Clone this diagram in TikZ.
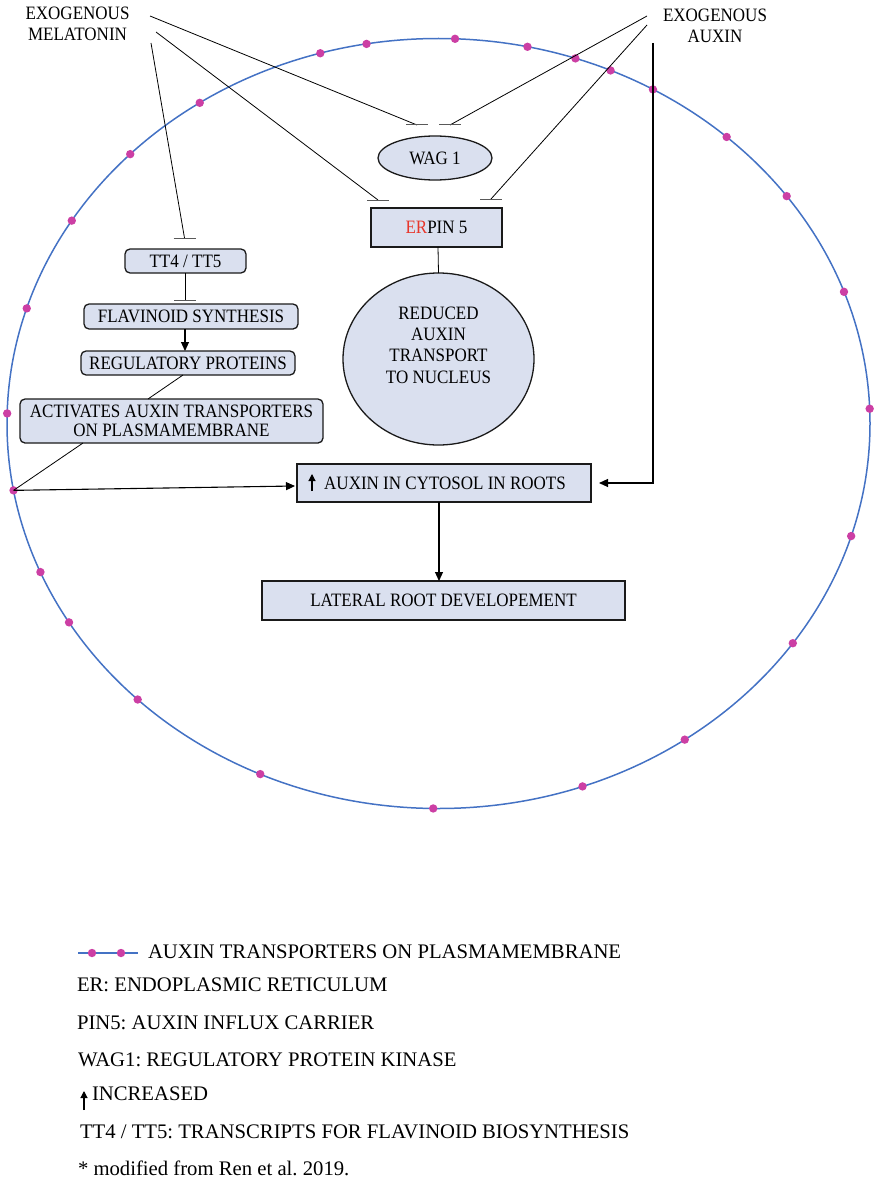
\documentclass[tikz,border=0pt]{standalone}
\usepackage{fontspec}
\setmainfont{Liberation Serif}
\newfontfamily\diagfont[FakeStretch=0.9]{Liberation Serif}
\usetikzlibrary{arrows.meta,shapes.geometric,calc}
\definecolor{boxfill}{HTML}{DAE0EF}
\definecolor{membrane}{HTML}{4472C4}
\definecolor{carrier}{HTML}{CC3FA4}
\definecolor{erred}{HTML}{E8372C}
\definecolor{edgeline}{HTML}{1A1A1A}
\frenchspacing

\begin{document}
\begin{tikzpicture}[x=1pt,y=-1pt,
  every node/.style={inner sep=0pt, outer sep=0pt},
  lbl/.style={font=\diagfont\fontsize{18.9}{21.3}\selectfont, align=center},
  procbox/.style={lbl, draw=edgeline, line width=1.3pt, fill=boxfill},
  roundbox/.style={procbox, rounded corners=5pt},
  ovalbox/.style={procbox, ellipse},
  link/.style={line width=0.8pt},
  inhline/.style={line width=0.8pt},
  inhbar/.style={line width=1pt, draw=black!65},
  arr/.style={line width=1.1pt, -{Triangle[length=9pt,width=8pt]}},
  membr/.style={draw=membrane, line width=1.5pt},
  carrierdot/.style={fill=carrier},
  legtext/.style={font=\fontsize{20.7}{24}\selectfont, anchor=west},
]
\useasboundingbox (0,0) rectangle (874,1180);

% plasma membrane with auxin transporters
\draw[membr] (438.5,423.5) ellipse [x radius=431.5pt, y radius=385pt];
\foreach \t in {254.1,260.4,272.2,281.9,288.5,293.5,299.8,311.9,323.8,340,357.8,
                17,34.8,55.2,70.5,90.7,114.4,134.2,148.9,157.3,170,181.5,197.4,211.8,224.4,236.4}
  \fill[carrierdot] ({438.5+431.5*cos(\t)},{423.5+385*sin(\t)}) circle (4.2pt);
\coordinate (inlet) at ({438.5+431.5*cos(170)},{423.5+385*sin(170)});

% external signals
\node[lbl] (mel) at (77.5,24) {EXOGENOUS\\MELATONIN};
\node[lbl] (aux) at (715,26) {EXOGENOUS\\AUXIN};

% nodes
\node[ovalbox, minimum width=114pt, minimum height=44pt] (wag) at (435,158) {WAG 1};
\node[procbox, minimum width=131pt, minimum height=39pt] (pin) at (436.5,227.5) {\textcolor{erred}{ER}PIN 5};
\node[ovalbox, minimum width=191pt, minimum height=172pt] (red) at (438.5,359) {};
\node[lbl] (redtxt) at ([yshift=14pt]red.center) {REDUCED\\AUXIN\\TRANSPORT\\TO NUCLEUS};
\node[roundbox, minimum width=121pt, minimum height=24pt] (tt) at (185.5,261) {TT4 / TT5};
\node[roundbox, minimum width=214pt, minimum height=25pt] (flav) at (191,316.5) {FLAVINOID SYNTHESIS};
\node[roundbox, minimum width=214pt, minimum height=24pt] (reg) at (188,363) {REGULATORY PROTEINS};
\node[roundbox, minimum width=303pt, minimum height=44pt, font=\diagfont\fontsize{18.9}{19.5}\selectfont] (act) at (171.5,421)
  {ACTIVATES AUXIN TRANSPORTERS\\ON PLASMAMEMBRANE};
\node[procbox, minimum width=294pt, minimum height=38pt] (cyt) at (444,483) {\hspace*{2pt}AUXIN IN CYTOSOL IN ROOTS};
\node[procbox, minimum width=363pt, minimum height=39pt] (lat) at (443.5,600.5) {LATERAL ROOT DEVELOPEMENT};

% inhibition ends
\coordinate (melA) at (150,16);
\coordinate (melB) at (156,32);
\coordinate (melC) at (151,43);
\coordinate (auxA) at (647,16);
\coordinate (auxB) at (647,25);
\coordinate (auxC) at (653,43);
\coordinate (wagL) at (417,125);
\coordinate (wagR) at (450,125);
\coordinate (pinL) at (378,200);
\coordinate (pinR) at (491,199);
\coordinate (ttT) at (184.5,238);
\coordinate (flT) at (185,300);

\draw[inhline] (melA) -- (wagL);
\draw[inhline] (melB) -- (pinL);
\draw[inhline] (melC) -- (ttT);
\draw[inhline] (auxA) -- (wagR);
\draw[inhline] (auxB) -- (pinR);
\draw[inhline] ([xshift=-0.5pt]tt.south) -- (flT);
\foreach \b in {wagL,wagR,pinL,pinR,ttT,flT}
  \draw[inhbar] ([xshift=-11pt]\b) -- ([xshift=11pt]\b);

% flow
\draw[link] ([xshift=1.5pt]pin.south) -- (red.north);
\draw[arr] ([xshift=-6pt]flav.south) -- ([xshift=-3pt]reg.north);
\draw[link] ([xshift=-5pt]reg.south) -- ([xshift=-23.5pt]act.north);
\draw[link] ([xshift=-88.5pt]act.south) -- (inlet);
\draw[arr] (inlet) -- ([xshift=-2pt,yshift=-3pt]cyt.west);
\draw[arr] (auxC) |- ([xshift=8pt]cyt.east);
\draw[arr] ([xshift=-5pt]cyt.south) -- ([xshift=-4.5pt]lat.north);
\draw[line width=1.1pt, -{Triangle[length=7pt,width=7pt]}]
  ([xshift=15pt,yshift=-8pt]cyt.west) -- ([xshift=15pt,yshift=9pt]cyt.west);

% legend
\draw[membr] (78,953) -- (138,953);
\fill[carrierdot] (92,953) circle (4.2pt);
\fill[carrierdot] (121,953) circle (4.2pt);
\node[legtext] (l1) at (148,952) {AUXIN TRANSPORTERS ON PLASMAMEMBRANE};
\node[legtext] (l2) at (77,985) {ER: ENDOPLASMIC RETICULUM};
\node[legtext] (l3) at (77,1023) {PIN5: AUXIN INFLUX CARRIER};
\node[legtext] (l4) at (78,1060) {WAG1: REGULATORY PROTEIN KINASE};
\coordinate (upA) at (84,1110);
\coordinate (upB) at (84,1091);
\draw[line width=1.1pt, -{Triangle[length=7pt,width=7pt]}] (upA) -- (upB);
\node[legtext] (l5) at (92,1094) {INCREASED};
\node[legtext] (l6) at (80,1132) {TT4 / TT5: TRANSCRIPTS FOR FLAVINOID BIOSYNTHESIS};
\node[legtext] (l7) at (78,1168) {* modified from Ren et al. 2019.};
\end{tikzpicture}
\end{document}
